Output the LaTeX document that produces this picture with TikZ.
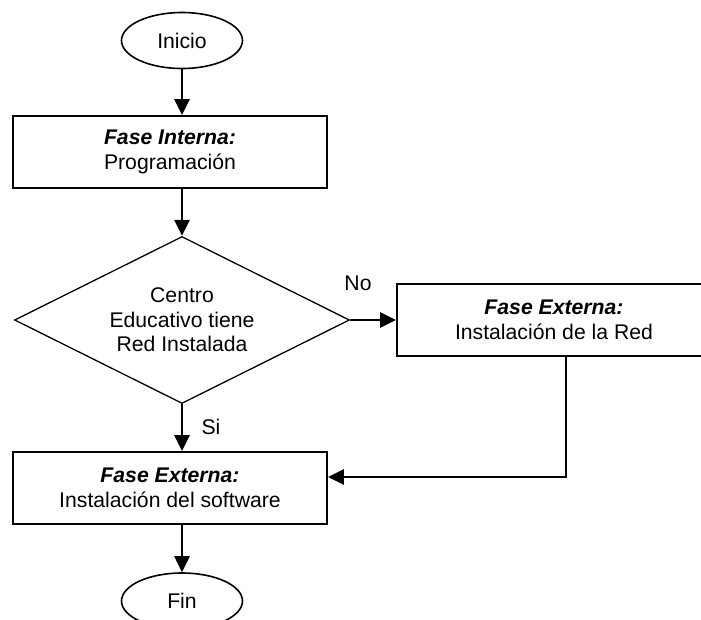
\documentclass[tikz,border=0pt]{standalone}
\usepackage{fontspec}
\setmainfont{Liberation Sans}
\usetikzlibrary{shapes.geometric,arrows.meta}
\begin{document}
\begin{tikzpicture}[x=1pt,y=-1pt,
  every node/.style={font=\fontsize{21.2}{24.4}\selectfont, inner sep=0pt},
  term/.style={ellipse, draw, line width=1.6pt, minimum width=121pt, minimum height=56pt},
  proc/.style={rectangle, draw, line width=1.9pt, minimum width=314pt, minimum height=72pt, align=center},
  decis/.style={diamond, draw, line width=1.3pt, minimum width=335pt, minimum height=167pt, aspect=2, align=center},
  conn/.style={line width=2.7pt, -{Triangle[width=15pt,length=16pt]}}]
\useasboundingbox (0,0) rectangle (701,619);
\clip (0,0) rectangle (701,619);
\node[term] (ini) at (182,40.5) {Inicio};
\node[proc] (b1) at (170,152) {\textbf{\textit{Fase Interna:}}\\Programación};
\node[decis] (dia) at (182,320) {Centro\\Educativo tiene\\Red Instalada};
\node[proc] (b2) at (554,320) {\textbf{\textit{Fase Externa:}}\\Instalación de la Red};
\node[proc] (b3) at (170,488) {\textbf{\textit{Fase Externa:}}\\Instalación del software};
\node[term] (fin) at (182,601) {Fin};
\node (no) at (358,283) {No};
\node (si) at (211,427) {Si};
\draw[conn] (ini.south) -- (ini.south |- b1.north);
\draw[conn] (dia.north |- b1.south) -- (dia.north);
\draw[conn] (dia.east) -- (b2.west);
\draw[conn] (dia.south) -- (dia.south |- b3.north);
\draw[conn] (fin.north |- b3.south) -- (fin.north);
\draw[conn] ([xshift=12pt]b2.south) |- ([yshift=11pt]b3.east);
\end{tikzpicture}
\end{document}
